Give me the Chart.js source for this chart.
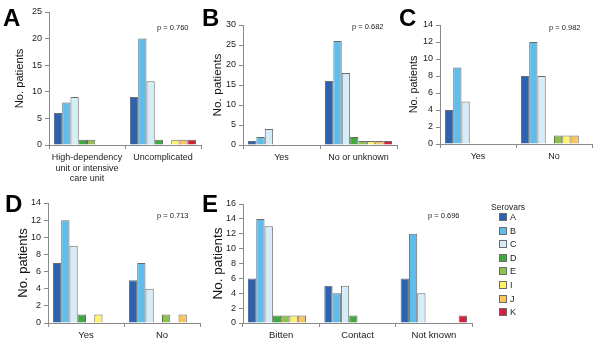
<!DOCTYPE html>
<html>
<head>
<meta charset="utf-8">
<script src="https://cdn.jsdelivr.net/npm/chart.js@4.4.1/dist/chart.umd.min.js"></script>
<style>
  body { margin: 0; background: #fff; }
  #figure { position: relative; width: 600px; height: 349px; overflow: hidden; font-family: "Liberation Sans", Arial, sans-serif; }
  #figure canvas { position: absolute; }
  .lg { position: absolute; color: #222; white-space: nowrap; }
  .lg-box { position: absolute; width: 6px; height: 6px; border: 1px solid #6b6b6b; }
</style>
</head>
<body>
<div id="figure"></div>
<script>
// serovars, same order in every count array below
const serovars = ['A', 'B', 'C', 'D', 'E', 'I', 'J', 'K'];
const serovarColors = ['#2b63b0', '#5fbdee', '#d4edf8', '#3cab3c', '#8cc44b', '#fff36b', '#fbc45c', '#d61f3b'];

// A
const careLabels = [['High-dependency', 'unit or intensive', 'care unit'], 'Uncomplicated'];
const careHighDependency = [6, 8, 9, 1, 1, 0, 0, 0];
const careUncomplicated = [9, 20, 12, 1, 0, 1, 1, 1];

// B
const bLabels = ['Yes', 'No or unknown'];
const bYes = [1, 2, 4, 0, 0, 0, 0, 0];
const bNoOrUnknown = [16, 26, 18, 2, 1, 1, 1, 1];

// C
const cLabels = ['Yes', 'No'];
const cYes = [4, 9, 5, 0, 0, 0, 0, 0];
const cNo = [8, 12, 8, 0, 1, 1, 1, 0];

// D
const dLabels = ['Yes', 'No'];
const dYes = [7, 12, 9, 1, 0, 1, 0, 0];
const dNo = [5, 7, 4, 0, 1, 0, 1, 0];

// E
const exposureLabels = ['Bitten', 'Contact', 'Not known'];
const exposureBitten = [6, 14, 13, 1, 1, 1, 1, 0];
const exposureContact = [5, 4, 5, 1, 0, 0, 0, 0];
const exposureNotKnown = [6, 12, 4, 0, 0, 0, 0, 1];

const pValues = ['p = 0.760', 'p = 0.682', 'p = 0.982', 'p = 0.713', 'p = 0.696'];

Chart.defaults.font.family = '"Liberation Sans", Arial, sans-serif';

const axisGray = '#8a8a8a';
const fig = document.getElementById('figure');

// draws the panel letter and the p value
const panelText = {
    id: 'panelText',
    afterDraw(chart, args, opts) {
        const ctx = chart.ctx;
        ctx.save();
        ctx.fillStyle = '#000';
        ctx.textAlign = 'left';
        ctx.textBaseline = 'alphabetic';
        ctx.font = 'bold 24px "Liberation Sans", Arial, sans-serif';
        ctx.fillText(opts.letter, opts.letterX, opts.letterY);
        ctx.fillStyle = '#222';
        ctx.textBaseline = 'middle';
        ctx.font = '7.5px "Liberation Sans", Arial, sans-serif';
        ctx.fillText(opts.p, opts.pX, opts.pY);
        ctx.restore();
    }
};

const panels = [
    { letter: 'A', box: [0, 0, 205, 190], area: { left: 49, right: 201, top: 12, bottom: 145 },
      labels: careLabels, rows: [careHighDependency, careUncomplicated], max: 25, step: 5,
      titleSize: 11.2, titleX: 20, catSize: 9, letterPos: [3, 26], pPos: [157, 28], p: pValues[0] },
    { letter: 'B', box: [200, 0, 202, 190], area: { left: 243, right: 397, top: 25, bottom: 145 },
      labels: bLabels, rows: [bYes, bNoOrUnknown], max: 30, step: 5,
      titleSize: 11.8, titleX: 218, catSize: 9, letterPos: [202, 26], pPos: [352, 27], p: pValues[1] },
    { letter: 'C', box: [398, 0, 202, 190], area: { left: 440, right: 592, top: 25, bottom: 144 },
      labels: cLabels, rows: [cYes, cNo], max: 14, step: 2,
      titleSize: 10.8, titleX: 414, catSize: 9, letterPos: [399, 26], pPos: [549, 28], p: pValues[2] },
    { letter: 'D', box: [0, 176, 205, 173], area: { left: 48, right: 200, top: 203, bottom: 323 },
      labels: dLabels, rows: [dYes, dNo], max: 14, step: 2,
      titleSize: 13, titleX: 23, catSize: 9.5, letterPos: [5, 212], pPos: [157, 216], p: pValues[3] },
    { letter: 'E', box: [200, 176, 280, 173], area: { left: 243, right: 472, top: 204, bottom: 323 },
      labels: exposureLabels, rows: [exposureBitten, exposureContact, exposureNotKnown], max: 16, step: 2,
      titleSize: 13.5, titleX: 218, catSize: 9.5, letterPos: [202, 212], pPos: [428, 216], p: pValues[4] }
];

function drawPanel(p) {
    const [cx, cy, cw, ch] = p.box;
    const canvas = document.createElement('canvas');
    canvas.width = cw;
    canvas.height = ch;
    canvas.style.left = cx + 'px';
    canvas.style.top = cy + 'px';
    fig.appendChild(canvas);

    const datasets = serovars.map((s, i) => ({
        label: s,
        data: p.rows.map(r => r[i]),
        backgroundColor: serovarColors[i],
        borderColor: '#6b6b6b',
        borderWidth: 1,
        categoryPercentage: 0.87,
        barPercentage: 1
    }));

    const titleLine = p.titleSize * 1.2;

    new Chart(canvas, {
        type: 'bar',
        data: { labels: p.labels, datasets: datasets },
        options: {
            responsive: false,
            animation: false,
            layout: { padding: { left: 0, top: p.area.top - cy, right: cx + cw - p.area.right, bottom: 0 } },
            plugins: {
                legend: { display: false },
                tooltip: { enabled: false },
                panelText: {
                    letter: p.letter, letterX: p.letterPos[0] - cx, letterY: p.letterPos[1] - cy,
                    p: p.p, pX: p.pPos[0] - cx, pY: p.pPos[1] - cy
                }
            },
            scales: {
                x: {
                    grid: { drawOnChartArea: false, tickLength: 4, color: axisGray },
                    border: { color: axisGray },
                    ticks: { color: '#222', font: { size: p.catSize }, padding: 3, maxRotation: 0, autoSkip: false },
                    afterFit: s => { s.height = cy + ch - p.area.bottom; }
                },
                y: {
                    min: 0,
                    max: p.max,
                    grid: { drawOnChartArea: false, tickLength: 4, color: axisGray },
                    border: { color: axisGray },
                    ticks: { stepSize: p.step, color: '#222', font: { size: 9 }, padding: 3 },
                    title: {
                        display: true,
                        text: 'No. patients',
                        color: '#111',
                        font: { size: p.titleSize },
                        padding: { top: p.titleX - cx - titleLine / 2, bottom: 0 }
                    },
                    afterFit: s => { s.width = p.area.left - cx; }
                }
            }
        },
        plugins: [panelText]
    });
}

panels.forEach(drawPanel);

// legend
function addText(text, left, centerY, size) {
    const el = document.createElement('div');
    el.className = 'lg';
    el.textContent = text;
    el.style.left = left + 'px';
    el.style.fontSize = size + 'px';
    el.style.lineHeight = '12px';
    el.style.top = (centerY - 6) + 'px';
    fig.appendChild(el);
}

addText('Serovars', 491, 207, 8.5);
serovars.forEach((s, i) => {
    const y = 217 + i * 13.6;
    const box = document.createElement('div');
    box.className = 'lg-box';
    box.style.left = '499px';
    box.style.top = Math.round(y - 4) + 'px';
    box.style.background = serovarColors[i];
    fig.appendChild(box);
    addText(s, 510, y, 9);
});
</script>
</body>
</html>
